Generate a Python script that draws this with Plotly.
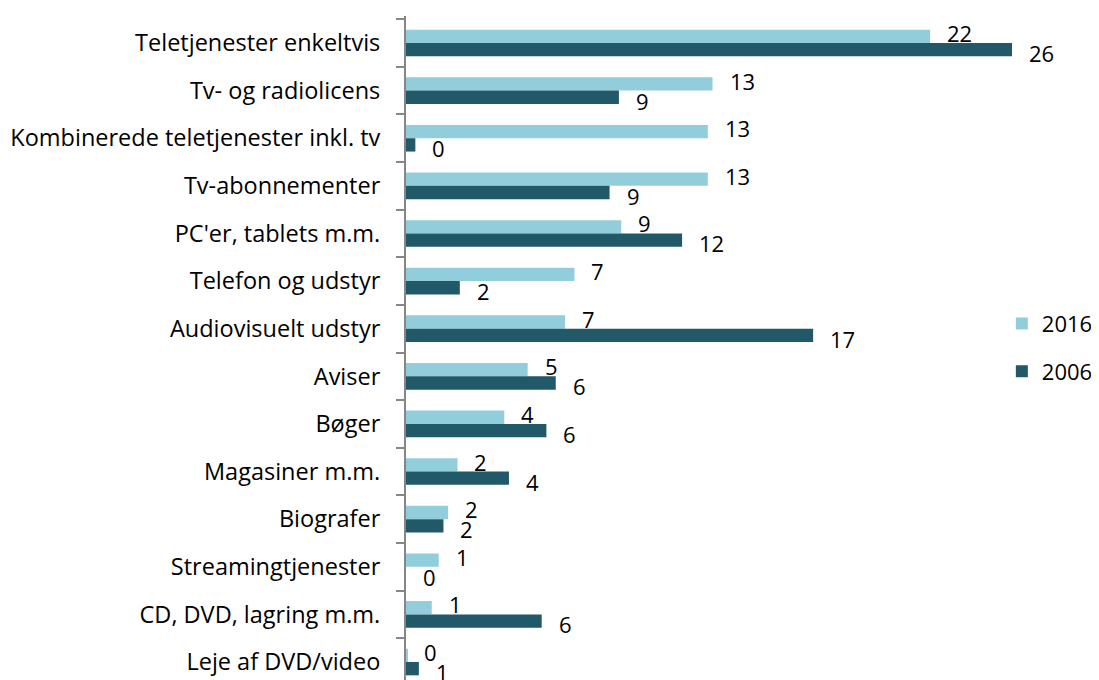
import plotly.graph_objects as go

categories = [
    "Teletjenester enkeltvis",
    "Tv- og radiolicens",
    "Kombinerede teletjenester inkl. tv",
    "Tv-abonnementer",
    "PC'er, tablets m.m.",
    "Telefon og udstyr",
    "Audiovisuelt udstyr",
    "Aviser",
    "Bøger",
    "Magasiner m.m.",
    "Biografer",
    "Streamingtjenester",
    "CD, DVD, lagring m.m.",
    "Leje af DVD/video",
]
values_2016 = [22.4, 13.1, 12.9, 12.9, 9.2, 7.2, 6.8, 5.2, 4.2, 2.2, 1.8, 1.4, 1.1, 0.05]
values_2006 = [25.9, 9.1, 0.4, 8.7, 11.8, 2.3, 17.4, 6.4, 6.0, 4.4, 1.6, 0.0, 5.8, 0.55]
series_names = ["2016", "2006"]
colors = ["#92CDDC", "#215968"]

FONT = "Open Sans"

fig = go.Figure()
for name, vals, col in zip(series_names, [values_2016, values_2006], colors):
    fig.add_trace(go.Bar(
        y=categories, x=vals, name=name, orientation="h",
        marker=dict(color=col, line=dict(width=0)),
        legendgroup=name,
        hoverinfo="x+y",
    ))

# value labels (rounded), placed right of each bar, 2016 raised and 2006 lowered
for vals, dy in zip([values_2016, values_2006], [10, -10]):
    for cat, v in zip(categories, vals):
        fig.add_annotation(
            x=v, y=cat, xref="x", yref="y", text=f"{v:.0f}",
            showarrow=False, xanchor="left", yanchor="middle",
            xshift=15, yshift=dy,
            font=dict(family=FONT, size=22, color="black"),
        )

fig.update_layout(
    width=1099, height=681,
    margin=dict(l=398, r=0, t=8, b=0, autoexpand=False),
    barmode="group", bargap=0.44, bargroupgap=0,
    plot_bgcolor="white", paper_bgcolor="white",
    font=dict(family=FONT, size=22, color="black"),
    showlegend=True,
    legend=dict(x=0.85, y=0.507, xanchor="left", yanchor="middle",
                font=dict(family=FONT, size=22, color="black"),
                traceorder="grouped", itemwidth=30, tracegroupgap=16,
                bgcolor="rgba(0,0,0,0)"),
    xaxis=dict(range=[0, 29.96], visible=False, showgrid=False, zeroline=False),
    yaxis=dict(autorange="reversed", showline=True, linecolor="#868686", linewidth=2,
               ticks="outside", ticklen=8, tickcolor="#868686", tickwidth=1.5,
               tickson="boundaries", showgrid=False, zeroline=False,
               ticklabelstandoff=19, automargin=False,
               tickfont=dict(family=FONT, size=23.5, color="black")),
)

fig.write_html("out.html")
